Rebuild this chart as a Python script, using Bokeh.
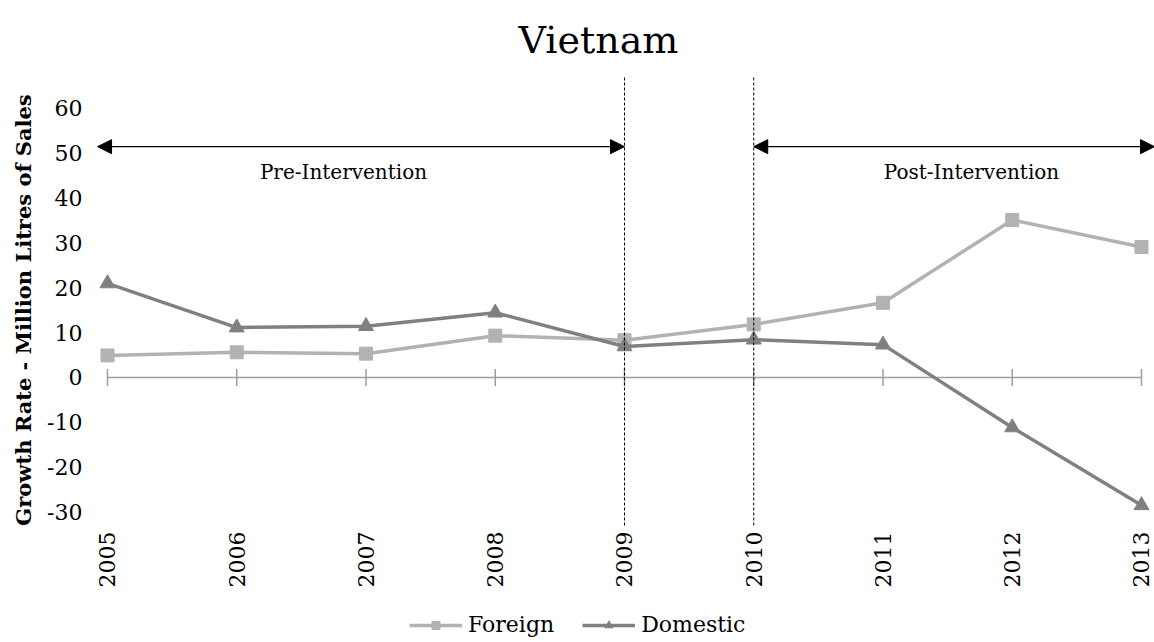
import math
from bokeh.plotting import figure
from bokeh.models import (Range1d, FixedTicker, Arrow, NormalHead, Label,
                          Legend, LegendItem, PrintfTickFormatter)
from bokeh.embed import file_html
from bokeh.resources import INLINE

# ---- data ----
years = [2005, 2006, 2007, 2008, 2009, 2010, 2011, 2012, 2013]
foreign = [4.9, 5.6, 5.3, 9.3, 8.3, 11.8, 16.6, 35.0, 29.0]
domestic = [20.9, 11.1, 11.4, 14.4, 6.9, 8.4, 7.3, -11.1, -28.4]
y_ticks = [-30, -20, -10, 0, 10, 20, 30, 40, 50, 60]
intervention_years = [2009, 2010]
period_labels = ["Pre-Intervention", "Post-Intervention"]
series_names = ["Foreign", "Domestic"]

FONT = "DejaVu Serif"
FOREIGN_C = "#b2b2b2"
DOMESTIC_C = "#808080"
AXIS_C = "#9d9d9d"

# view window (data units)
X0, X1 = 2004.17215, 2013.1006
Y0, Y1 = -58.889, 66.889
Y_AXIS_X = 2004.94584    # where the value axis sits
X_AXIS_Y = -32.889       # where the category labels hang

p = figure(width=1154, height=642, output_backend="svg", toolbar_location=None,
           x_range=Range1d(X0, X1), y_range=Range1d(Y0, Y1),
           min_border_left=0, min_border_right=0, min_border_top=76,
           min_border_bottom=0, title="Vietnam")

p.title.text_font = FONT
p.title.text_font_size = "38px"
p.title.text_font_style = "normal"
p.title.text_color = "black"
p.title.align = "left"
p.title.offset = 518
p.title.standoff = 30

p.xgrid.visible = False
p.ygrid.visible = False
p.outline_line_color = None
p.background_fill_color = "white"
p.border_fill_color = "white"

xa = p.xaxis[0]
xa.fixed_location = X_AXIS_Y
xa.bounds = (years[0], years[-1])
xa.ticker = FixedTicker(ticks=years)
xa.major_label_orientation = math.pi / 2
xa.axis_line_color = None
xa.major_tick_line_color = None
xa.minor_tick_line_color = None
xa.major_tick_out = 0
xa.major_tick_in = 0
xa.major_label_standoff = 6
xa.major_label_text_font = FONT
xa.major_label_text_font_size = "22px"
xa.major_label_text_color = "black"

ya = p.yaxis[0]
ya.fixed_location = Y_AXIS_X
ya.bounds = (y_ticks[0], y_ticks[-1])
ya.ticker = FixedTicker(ticks=y_ticks)
ya.formatter = PrintfTickFormatter(format="%d")
ya.axis_line_color = None
ya.major_tick_line_color = None
ya.minor_tick_line_color = None
ya.major_tick_out = 0
ya.major_tick_in = 0
ya.major_label_standoff = 18
ya.major_label_text_font = FONT
ya.major_label_text_font_size = "22px"
ya.major_label_text_color = "black"
ya.axis_label = "Growth Rate - Million Litres of Sales"
ya.axis_label_text_font = FONT
ya.axis_label_text_font_size = "21px"
ya.axis_label_text_font_style = "bold"
ya.axis_label_text_color = "black"
ya.axis_label_standoff = 8

# horizontal axis at zero with crossing tick marks
p.segment(x0=years[0], y0=0, x1=years[-1], y1=0, line_color=AXIS_C, line_width=1.5)
p.scatter(years, [0] * len(years), marker="dash", angle=math.pi / 2, size=17,
          line_color=AXIS_C, line_width=1.5)

# series
f_line = p.line(years, foreign, line_color=FOREIGN_C, line_width=3.5)
f_mark = p.scatter(years, foreign, marker="square", size=13,
                   fill_color=FOREIGN_C, line_color=FOREIGN_C)
d_line = p.line(years, domestic, line_color=DOMESTIC_C, line_width=3.5)
d_mark = p.scatter(years, domestic, marker="triangle", size=15,
                   fill_color=DOMESTIC_C, line_color=DOMESTIC_C)

# intervention boundaries
p.segment(x0=intervention_years, x1=intervention_years,
          y0=[X_AXIS_Y] * 2, y1=[Y1] * 2,
          line_color="black", line_width=1, line_dash="3 2")

# period arrows
arrow_y = 51.3
spans = [(2004.923, intervention_years[0]), (intervention_years[1], X1)]
for x0, x1 in spans:
    p.add_layout(Arrow(
        start=NormalHead(size=14, fill_color="black", line_color="black"),
        end=NormalHead(size=14, fill_color="black", line_color="black"),
        x_start=x0, y_start=arrow_y, x_end=x1, y_end=arrow_y,
        line_color="black", line_width=1.2))

label_x = [2006.826, 2011.685]
for lx, txt in zip(label_x, period_labels):
    p.add_layout(Label(x=lx, y=45.6, text=txt, text_align="center",
                       text_baseline="alphabetic", text_font=FONT,
                       text_font_size="20px", text_color="black"))

legend = Legend(items=[LegendItem(label=series_names[0], renderers=[f_line, f_mark]),
                       LegendItem(label=series_names[1], renderers=[d_line, d_mark])],
                location=(409, 5), orientation="horizontal")
legend.label_text_font = FONT
legend.label_text_font_size = "22px"
legend.label_text_color = "black"
legend.glyph_width = 53
legend.glyph_height = 20
legend.label_height = 20
legend.label_standoff = 6
legend.spacing = 28
legend.padding = 0
legend.margin = 0
legend.border_line_color = None
legend.background_fill_alpha = 0
p.add_layout(legend)

open("out.html", "w").write(file_html(p, INLINE))
